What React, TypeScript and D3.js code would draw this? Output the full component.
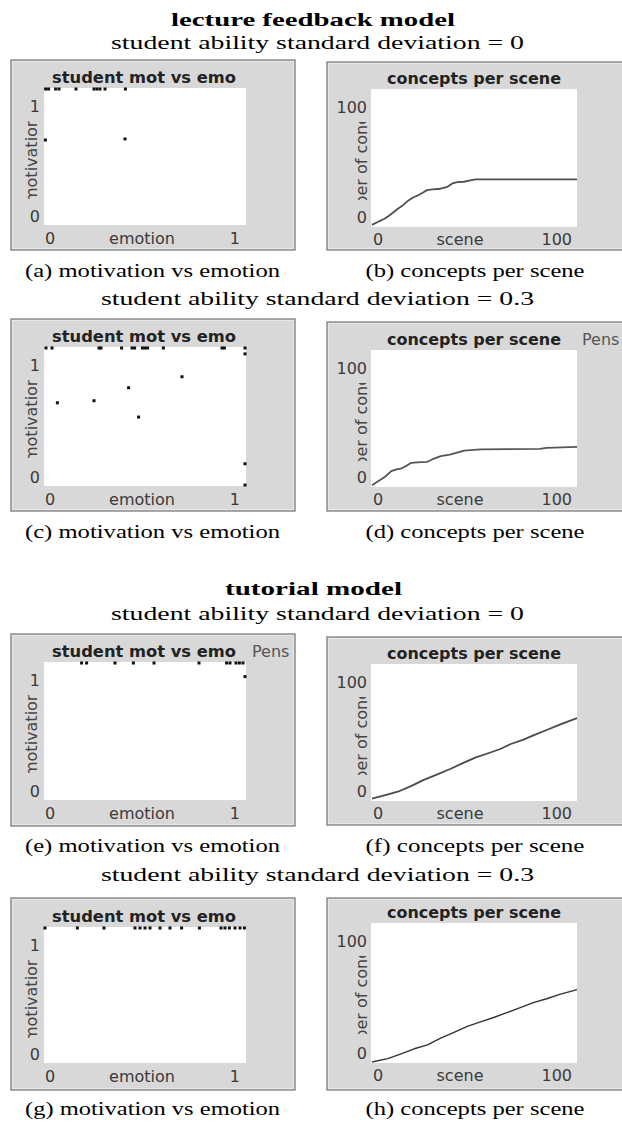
import React from "react";
import * as d3 from "d3";

const W = 622;
const H = 1124;

// ---------- text content ----------
const sectionTitles = ["lecture feedback model", "tutorial model"];
const subtitles = [
  "student ability standard deviation = 0",
  "student ability standard deviation = 0.3",
  "student ability standard deviation = 0",
  "student ability standard deviation = 0.3",
];
const captionsLeft = [
  "(a) motivation vs emotion",
  "(c) motivation vs emotion",
  "(e) motivation vs emotion",
  "(g) motivation vs emotion",
];
const captionsRight = [
  "(b) concepts per scene",
  "(d) concepts per scene",
  "(f) concepts per scene",
  "(h) concepts per scene",
];

const scatterTitle = "student mot vs emo";
const scatterXLabel = "emotion";
const scatterYLabel = "motivation";
const scatterXTicks = ["0", "1"];
const scatterYTicks = ["0", "1"];
const scatterDomain: [number, number] = [0, 1];

const lineTitle = "concepts per scene";
const lineXLabel = "scene";
const lineYLabel = "number of concepts";
const lineXTicks = ["0", "100"];
const lineYTicks = ["0", "100"];
const lineDomain: [number, number] = [0, 100];

const pensLabel = "Pens";

// ---------- data: [emotion, motivation] ----------
const motEmoA: [number, number][] = [
  [0.003, 1], [0.018, 1], [0.053, 1], [0.07, 1], [0.155, 1],
  [0.245, 1], [0.26, 1], [0.275, 1], [0.3, 1], [0.402, 1],
  [0.002, 0.622], [0.4, 0.63],
];
const motEmoC: [number, number][] = [
  [0.005, 1], [0.035, 1], [0.27, 1], [0.28, 1], [0.383, 1],
  [0.435, 1], [0.448, 1], [0.487, 1], [0.5, 1], [0.513, 1],
  [0.592, 1], [0.885, 1], [0.897, 1], [1.0, 1], [1.0, 0.957],
  [0.062, 0.6], [0.245, 0.615], [0.418, 0.71], [0.468, 0.496],
  [0.685, 0.79], [1.0, 0.155], [1.0, 0.0],
];
const motEmoE: [number, number][] = [
  [0.183, 1], [0.208, 1], [0.35, 1], [0.442, 1], [0.545, 1],
  [0.77, 1], [0.908, 1], [0.925, 1], [0.955, 1], [0.972, 1],
  [0.99, 1], [1.0, 0.9],
];
const motEmoG: [number, number][] = [
  [0.0, 1], [0.162, 1], [0.295, 1], [0.45, 1], [0.475, 1],
  [0.5, 1], [0.525, 1], [0.575, 1], [0.625, 1], [0.683, 1],
  [0.772, 1], [0.88, 1], [0.9, 1], [0.922, 1], [0.95, 1],
  [0.975, 1], [0.997, 1],
];

// ---------- data: [scene, concepts] ----------
const conceptsB: [number, number][] = [
  [0, 0.8], [3.7, 3.6], [6.1, 5.3], [8.1, 7.3], [10.2, 9.7],
  [12.6, 12.6], [15, 15], [17.4, 18.2], [19.8, 20.6], [22.3, 22.3],
  [24.7, 24.3], [26.8, 26.2], [29.5, 26.7], [33.5, 27.2], [36.8, 28.6],
  [39.2, 31.1], [41.6, 32], [44.8, 32.3], [48, 33.3], [50.5, 34],
  [100, 34],
];
const conceptsD: [number, number][] = [
  [0, 0.5], [4.5, 4.9], [6.5, 7], [9.4, 11], [12, 12.2],
  [14, 12.7], [17, 15], [19, 17], [24, 17.6], [27, 17.8],
  [30, 20], [33.5, 22], [38, 23], [45, 26], [53, 27],
  [82, 27.3], [85, 28], [100, 28.8],
];
const conceptsF: [number, number][] = [
  [0, 1], [6, 3.4], [12.6, 6.1], [19, 10.2], [25, 14.6],
  [31.9, 18.8], [38.4, 23], [44.8, 27.5], [51, 31.5], [56, 34],
  [62.6, 37.5], [67.4, 41], [73.9, 44.4], [78.7, 47.5], [85.2, 51.5],
  [91.6, 55.4], [100, 60.2],
];
const conceptsH: [number, number][] = [
  [0, 0], [7.7, 2.4], [14.2, 5.9], [20.6, 9.5], [27.1, 12.3],
  [33.5, 17.1], [40, 21.3], [46.5, 25.6], [52.9, 28.9], [59.4, 32],
  [65.8, 35.5], [72.3, 39.1], [78.7, 42.7], [85.2, 45.5], [91.6, 48.6],
  [100, 52.1],
];

// ---------- layout ----------
const leftBox = { x0: 11, x1: 295 };
const rightBox = { x0: 327, x1: 640 };
const leftPlotX = { x0: 44, x1: 246 };
const rightPlotX = { x0: 371, x1: 577 };
const leftRows = [
  { boxTop: 60, boxBottom: 250, top: 88, bottom: 225 },
  { boxTop: 319, boxBottom: 511, top: 347, bottom: 486 },
  { boxTop: 634, boxBottom: 826, top: 662, bottom: 800 },
  { boxTop: 898, boxBottom: 1090, top: 927, bottom: 1063 },
];
const rightRows = [
  { boxTop: 62, boxBottom: 250, top: 89, bottom: 227 },
  { boxTop: 322, boxBottom: 511, top: 350, bottom: 487 },
  { boxTop: 637, boxBottom: 825, top: 664, bottom: 801 },
  { boxTop: 898, boxBottom: 1090, top: 923, bottom: 1063 },
];
const subtitleY = [49, 305, 620, 881];
const titleY = [26, 595];
const captionY = [277, 538, 852, 1115];

const serif = "'Liberation Serif', 'Times New Roman', 'DejaVu Serif', serif";
const sans = "'DejaVu Sans', Verdana, sans-serif";
const panelBg = "#d8d8d8";

type Row = { boxTop: number; boxBottom: number; top: number; bottom: number };

function Frame({ x0, x1, row }: { x0: number; x1: number; row: Row }) {
  return (
    <g>
      <rect x={x0} y={row.boxTop} width={x1 - x0} height={row.boxBottom - row.boxTop}
        fill={panelBg} stroke="#868686" strokeWidth={1.4} />
      <rect x={x0 + 1.5} y={row.boxTop + 1.5} width={x1 - x0 - 3} height={row.boxBottom - row.boxTop - 3}
        fill="none" stroke="#ececec" strokeWidth={0.8} />
    </g>
  );
}

function YLabel({ id, text, baselineX, centerY, shift }: { id: string; text: string; baselineX: number; centerY: number; shift: number }) {
  return (
    <g>
      <defs>
        <clipPath id={id}>
          <rect x={baselineX - 20} y={centerY - 39} width={24} height={78} />
        </clipPath>
      </defs>
      <g clipPath={`url(#${id})`}>
        <text transform={`translate(${baselineX},${centerY + shift}) rotate(-90)`}
          textAnchor="middle" fontFamily={sans} fontSize={16} fill="#444">{text}</text>
      </g>
    </g>
  );
}

function ScatterPanel({ row, data, idx, pens }: { row: Row; data: [number, number][]; idx: number; pens?: boolean }) {
  const { x0, x1 } = leftPlotX;
  const xs = d3.scaleLinear().domain(scatterDomain).range([x0 + 1, x1 - 1]);
  const ys = d3.scaleLinear().domain(scatterDomain).range([row.bottom - 1, row.top + 1]);
  const s = 3;
  return (
    <g>
      <Frame x0={leftBox.x0} x1={leftBox.x1} row={row} />
      <rect x={x0} y={row.top} width={x1 - x0} height={row.bottom - row.top} fill="#ffffff" />
      <text x={144} y={row.top - 5} textAnchor="middle" fontFamily={sans} fontWeight="bold"
        fontSize={16} fill="#222" textLength={184} lengthAdjust="spacingAndGlyphs">{scatterTitle}</text>
      {pens && (
        <text x={252} y={row.top - 5} fontFamily={sans} fontSize={16} fill="#555">{pensLabel}</text>
      )}
      <text x={40} y={row.top + 24} textAnchor="end" fontFamily={sans} fontSize={16} fill="#3a3a3a">{scatterYTicks[1]}</text>
      <text x={40} y={row.bottom - 3} textAnchor="end" fontFamily={sans} fontSize={16} fill="#3a3a3a">{scatterYTicks[0]}</text>
      <text x={x0 + 1} y={row.bottom + 19} fontFamily={sans} fontSize={16} fill="#3a3a3a">{scatterXTicks[0]}</text>
      <text x={x1 - 6} y={row.bottom + 19} textAnchor="end" fontFamily={sans} fontSize={16} fill="#3a3a3a">{scatterXTicks[1]}</text>
      <text x={142} y={row.bottom + 19} textAnchor="middle" fontFamily={sans} fontSize={16} fill="#3a3a3a">{scatterXLabel}</text>
      <YLabel id={`ys${idx}`} text={scatterYLabel} baselineX={37} centerY={row.top + 72} shift={0} />
      {data.map((d, i) => (
        <rect key={i} x={xs(d[0]) - s / 2} y={ys(d[1]) - s / 2} width={s} height={s} fill="#111" />
      ))}
    </g>
  );
}

function LinePanel({ row, data, idx, pens, color, width }: { row: Row; data: [number, number][]; idx: number; pens?: boolean; color: string; width: number }) {
  const { x0, x1 } = rightPlotX;
  const xs = d3.scaleLinear().domain(lineDomain).range([x0 + 1, x1]);
  const ys = d3.scaleLinear().domain(lineDomain).range([row.bottom - 1, row.top]);
  const path = d3.line<[number, number]>().x((d) => xs(d[0])).y((d) => ys(d[1]))(data) || "";
  return (
    <g>
      <Frame x0={rightBox.x0} x1={rightBox.x1} row={row} />
      <rect x={x0} y={row.top} width={x1 - x0} height={row.bottom - row.top} fill="#ffffff" />
      <text x={474} y={row.top - 5} textAnchor="middle" fontFamily={sans} fontWeight="bold"
        fontSize={16} fill="#222" textLength={174} lengthAdjust="spacingAndGlyphs">{lineTitle}</text>
      {pens && (
        <text x={582} y={row.top - 5} fontFamily={sans} fontSize={16} fill="#555">{pensLabel}</text>
      )}
      <text x={367} y={row.top + 24} textAnchor="end" fontFamily={sans} fontSize={16} fill="#3a3a3a">{lineYTicks[1]}</text>
      <text x={367} y={row.bottom - 4} textAnchor="end" fontFamily={sans} fontSize={16} fill="#3a3a3a">{lineYTicks[0]}</text>
      <text x={x0 + 2} y={row.bottom + 18} fontFamily={sans} fontSize={16} fill="#3a3a3a">{lineXTicks[0]}</text>
      <text x={x1 - 5} y={row.bottom + 18} textAnchor="end" fontFamily={sans} fontSize={16} fill="#3a3a3a">{lineXTicks[1]}</text>
      <text x={460} y={row.bottom + 18} textAnchor="middle" fontFamily={sans} fontSize={16} fill="#3a3a3a">{lineXLabel}</text>
      <YLabel id={`yl${idx}`} text={lineYLabel} baselineX={367} centerY={row.top + 72} shift={0.5} />
      <path d={path} fill="none" stroke={color} strokeWidth={width} strokeLinejoin="round" />
    </g>
  );
}

export default function App() {
  const scatterData = [motEmoA, motEmoC, motEmoE, motEmoG];
  const lineData = [conceptsB, conceptsD, conceptsF, conceptsH];
  const lineColors = ["#505050", "#555555", "#4a4a4a", "#333333"];
  const lineWidths = [1.8, 1.8, 1.8, 1.4];
  return (
    <svg width={W} height={H} viewBox={`0 0 ${W} ${H}`}
      style={{ position: "absolute", left: 0, top: 0, display: "block", background: "#fff" }}>
      <rect x={0} y={0} width={W} height={H} fill="#ffffff" />
      {sectionTitles.map((t, i) => (
        <text key={t} x={i === 0 ? 313 : 313.5} y={titleY[i]} textAnchor="middle" fontFamily={serif}
          fontWeight="bold" fontSize={19} fill="#000" textLength={i === 0 ? 284 : 177}
          lengthAdjust="spacingAndGlyphs">{t}</text>
      ))}
      {subtitles.map((t, i) => (
        <text key={i} x={317.5} y={subtitleY[i]} textAnchor="middle" fontFamily={serif}
          fontSize={19} fill="#000" textLength={i % 2 === 0 ? 413 : 433}
          lengthAdjust="spacingAndGlyphs">{t}</text>
      ))}
      {leftRows.map((row, i) => (
        <ScatterPanel key={`s${i}`} row={row} data={scatterData[i]} idx={i} pens={i === 2} />
      ))}
      {rightRows.map((row, i) => (
        <LinePanel key={`l${i}`} row={row} data={lineData[i]} idx={i} pens={i === 1}
          color={lineColors[i]} width={lineWidths[i]} />
      ))}
      {captionsLeft.map((t, i) => (
        <text key={t + i} x={152.5} y={captionY[i]} textAnchor="middle" fontFamily={serif}
          fontSize={18.5} fill="#000" textLength={255} lengthAdjust="spacingAndGlyphs">{t}</text>
      ))}
      {captionsRight.map((t, i) => (
        <text key={t + i} x={475} y={captionY[i]} textAnchor="middle" fontFamily={serif}
          fontSize={18.5} fill="#000" textLength={219} lengthAdjust="spacingAndGlyphs">{t}</text>
      ))}
    </svg>
  );
}
